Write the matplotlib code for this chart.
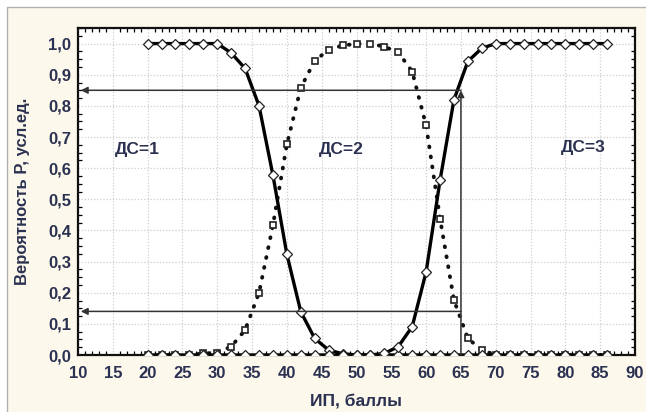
import matplotlib
matplotlib.use("Agg")
import matplotlib.pyplot as plt
from matplotlib.patches import Rectangle
from matplotlib.ticker import MultipleLocator, FuncFormatter

# ---- data ----
x_vals = list(range(20, 88, 2))
p_ds1 = [1.0, 1.0, 1.0, 1.0, 1.0, 1.0, 0.97, 0.92, 0.80, 0.577, 0.323, 0.139, 0.053, 0.016,
         0.004, 0, 0, 0, 0, 0, 0, 0, 0, 0, 0, 0, 0, 0, 0, 0, 0, 0, 0, 0]
p_ds2 = [0.0, 0.0, 0.0, 0.0, 0.005, 0.007, 0.027, 0.08, 0.2, 0.417, 0.676, 0.858, 0.945, 0.98,
         0.994, 0.999, 1.0, 0.99, 0.972, 0.91, 0.737, 0.438, 0.176, 0.053, 0.016, 0, 0, 0, 0, 0,
         0, 0, 0, 0]
p_ds3 = [0, 0, 0, 0, 0, 0, 0, 0, 0, 0, 0, 0, 0, 0, 0, 0, 0, 0.005, 0.027, 0.091, 0.267, 0.561,
         0.82, 0.943, 0.985, 1.0, 1.0, 1.0, 1.0, 1.0, 1.0, 1.0, 1.0, 1.0]
region_labels = ["ДС=1", "ДС=2", "ДС=3"]
region_pos = [(18.5, 0.66), (47.8, 0.66), (82.5, 0.665)]
x_ticks = list(range(10, 95, 5))
y_ticks = [i / 10 for i in range(11)]
threshold_x = 65
levels = [0.85, 0.14]

plt.rcParams["font.family"] = ["Liberation Sans", "DejaVu Sans"]
txt_color = "#2b3150"
bg = "#fdf8ec"

fig = plt.figure(figsize=(6.46, 4.12), dpi=100)
fig.patch.set_facecolor("white")
fig.patches.append(Rectangle((7 / 646, -0.05), 1.1, 1.05 - 7 / 412, transform=fig.transFigure,
                             facecolor=bg, edgecolor="#b0b0b0", linewidth=1.0, zorder=-10))

ax = fig.add_axes([78 / 646, 1 - 355 / 412, (635 - 78) / 646, (355 - 28) / 412])
ax.set_facecolor("white")
ax.set_xlim(10, 90)
ax.set_ylim(0, 1.05)

ax.grid(True, which="major", linestyle=(0, (1, 1.5)), color="#cfcfcf", linewidth=0.9)
ax.set_axisbelow(True)

ax.plot(x_vals, p_ds2, linestyle=(0, (0.2, 2.4)), color="#111111", linewidth=2.8,
        dash_capstyle="round", marker="s", markersize=4.4, markerfacecolor="white",
        markeredgecolor="#222222", markeredgewidth=1.2, zorder=3)
ax.plot(x_vals, p_ds1, "-", color="black", linewidth=2.4, marker="D", markersize=5.5,
        markerfacecolor="white", markeredgecolor="#222222", markeredgewidth=0.9, zorder=4)
ax.plot(x_vals, p_ds3, "-", color="black", linewidth=2.4, marker="D", markersize=5.5,
        markerfacecolor="white", markeredgecolor="#222222", markeredgewidth=0.9, zorder=4)

arrow_kw = dict(arrowstyle="-|>", color="#333333", lw=1.1, mutation_scale=10,
                shrinkA=0, shrinkB=0)
for lv in levels:
    ax.annotate("", xy=(10.4, lv), xytext=(threshold_x, lv), arrowprops=arrow_kw, zorder=5)
ax.annotate("", xy=(threshold_x, levels[0]), xytext=(threshold_x, 0), arrowprops=arrow_kw,
            zorder=5)

for lab, (px, py) in zip(region_labels, region_pos):
    ax.text(px, py, lab, ha="center", va="center", fontsize=12.5, fontweight="bold",
            color=txt_color, zorder=6)

ax.set_xticks(x_ticks)
ax.set_yticks(y_ticks)
ax.yaxis.set_major_formatter(FuncFormatter(lambda v, p: f"{v:.1f}".replace(".", ",")))
ax.xaxis.set_minor_locator(MultipleLocator(1))
ax.yaxis.set_minor_locator(MultipleLocator(0.025))
ax.tick_params(which="both", direction="in", top=True, right=True, colors="black")
ax.tick_params(which="major", length=0, labelsize=12, labelcolor=txt_color, pad=5)
ax.tick_params(axis="x", which="major", pad=8)
ax.tick_params(which="minor", length=3, width=0.9)
for lbl in ax.get_xticklabels() + ax.get_yticklabels():
    lbl.set_fontweight("bold")
for s in ax.spines.values():
    s.set_linewidth(1.6)
    s.set_color("#111111")

ax.set_xlabel("ИП, баллы", fontsize=12.5, fontweight="bold", color=txt_color, labelpad=9)
ax.set_ylabel("Вероятность P, усл.ед.", fontsize=12, fontweight="bold", color=txt_color,
              labelpad=13)

fig.savefig("out.png", dpi=100, facecolor=fig.get_facecolor())
